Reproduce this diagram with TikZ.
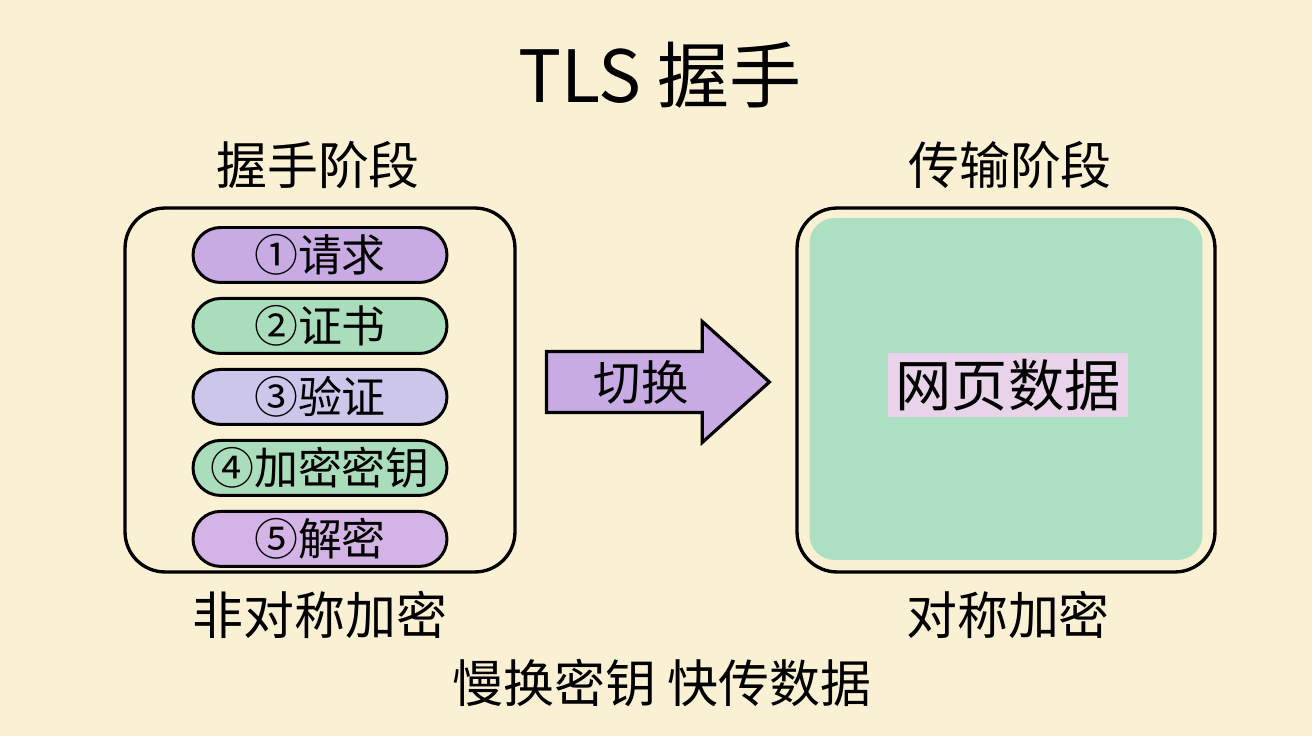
\documentclass[tikz,border=0pt]{standalone}
\usepackage{fontspec}
\setmainfont{Noto Sans CJK SC}
\usepackage{tikz}
\usetikzlibrary{positioning,shapes.arrows,backgrounds}

\definecolor{paper}{HTML}{FAF0D4}
\definecolor{lila}{HTML}{C9ABE3}
\definecolor{mint}{HTML}{A9DDBB}
\definecolor{lavnd}{HTML}{CCC6EA}
\definecolor{orchid}{HTML}{D4B3E6}
\definecolor{sea}{HTML}{ADDFC3}
\definecolor{blush}{HTML}{E8D3EA}

\begin{document}
\begin{tikzpicture}[
    x=0.02cm, y=-0.02cm,
    ttl/.style={font=\fontsize{41}{48}\selectfont},
    hd/.style={font=\fontsize{29}{34}\selectfont},
    frame/.style={draw, line width=1.9pt, rounded corners=0.8cm, fill=paper},
    pill/.style={draw, line width=1.7pt, rounded corners=0.55cm,
        minimum width=5.08cm, minimum height=1.1cm, inner sep=0pt,
        font=\fontsize{25}{30}\selectfont},
    sw/.style={single arrow, draw, line width=1.8pt, fill=lila,
        minimum height=4.46cm, minimum width=2.4cm,
        single arrow head extend=0.6cm, single arrow tip angle=84,
        inner sep=4pt, font=\fontsize{27}{30}\selectfont},
]
    % ---------- fondo ----------
    \fill[paper] (0,0) rectangle (1312,736);
    \useasboundingbox (0,0) rectangle (1312,736);

    \node[ttl] (title) at (660,75) {TLS 握手};

    % ---------- 握手阶段 ----------
    \node[hd] (hs) at (318,165) {握手阶段};
    \node[frame, minimum width=7.8cm, minimum height=7.28cm] (lbox) at (320,390) {};
    \node[pill, fill=lila]   (p1) at (320,255) {①请求};
    \node[pill, fill=mint,   below=0.26cm of p1] (p2) {②证书};
    \node[pill, fill=lavnd,  below=0.26cm of p2] (p3) {③验证};
    \node[pill, fill=mint,   below=0.26cm of p3] (p4) {④加密密钥};
    \node[pill, fill=orchid, below=0.26cm of p4] (p5) {⑤解密};
    \node[hd] (asym) at (320,615) {非对称加密};

    % ---------- 切换 ----------
    \node[sw] (switch) at (641,382) {切换};

    % ---------- 传输阶段 ----------
    \node[hd] (tx) at (1010,165) {传输阶段};
    \node[frame, minimum width=8.36cm, minimum height=7.28cm] (rbox) at (1006,390) {};
    \node[fill=sea, rounded corners=0.5cm, minimum width=7.86cm,
        minimum height=6.84cm] (pane) at (1006,389) {};
    \node[fill=blush, minimum width=4.8cm, minimum height=1.3cm,
        font=\fontsize{32}{36}\selectfont] (web) at (1008,385) {网页数据};
    \node[hd] (sym) at (1008,615) {对称加密};

    \node[hd] (motto) at (662,683) {慢换密钥 快传数据};
\end{tikzpicture}
\end{document}
